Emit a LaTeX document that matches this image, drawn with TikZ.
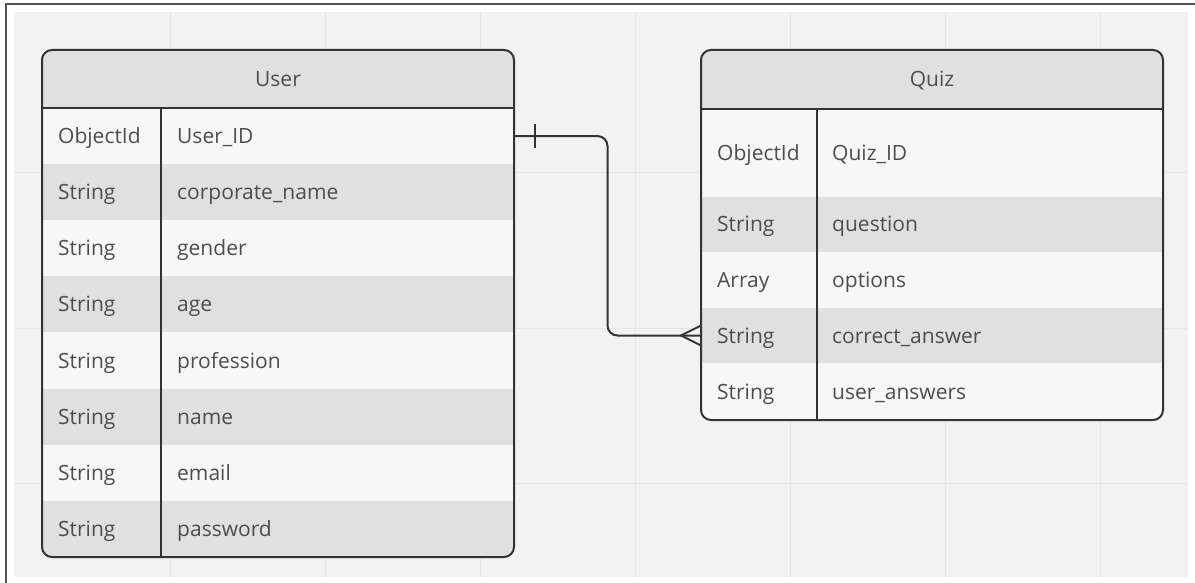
\documentclass[tikz,border=0pt]{standalone}
\usepackage{fontspec}
\setmainfont{Open Sans}
\usetikzlibrary{calc}
\definecolor{bgc}{HTML}{F2F2F2}
\definecolor{gridc}{HTML}{E6E6E6}
\definecolor{hdrc}{HTML}{E0E0E0}
\definecolor{rowl}{HTML}{F7F7F7}
\definecolor{rowd}{HTML}{E0E0E0}
\definecolor{linec}{HTML}{333333}
\definecolor{textc}{HTML}{4D4D4D}
\definecolor{framec}{HTML}{555555}
\begin{document}
\begin{tikzpicture}[x=1pt,y=-1pt,
  ln/.style={draw=linec, line width=2pt},
  rowbox/.style={draw=none, inner sep=0pt, outer sep=0pt},
  txt/.style={text=textc, inner sep=0pt, anchor=base west, font=\fontsize{21}{25}\selectfont},
  hdrtxt/.style={text=textc, inner sep=0pt, anchor=base, font=\fontsize{21}{25}\selectfont}]
\useasboundingbox (0,0) rectangle (1195,583);
\fill[white] (0,0) rectangle (1195,583);
\fill[bgc] (14,12) rectangle (1188,577);
\foreach \gx in {170,325,480,635,790,945,1100} \draw[gridc, line width=1pt] (\gx,12) -- (\gx,577);
\foreach \gy in {173,328,483} \draw[gridc, line width=1pt] (14,\gy) -- (1188,\gy);
\draw[framec, line width=1.2pt] (6,583) -- (6,4) -- (1195,4);

% ---------- User table ----------
\begin{scope}
\clip[rounded corners=10pt] (42,50) rectangle (514,557);
\node[rowbox, fill=hdrc, minimum width=472pt, minimum height=58pt] (uh) at (278,79) {};
\foreach \i/\ty/\nm/\fc [evaluate=\i as \yc using {108+56.125*(\i-0.5)+7.5}] in
  {1/ObjectId/User\_ID/rowl, 2/String/corporate\_name/rowd, 3/String/gender/rowl,
   4/String/age/rowd, 5/String/profession/rowl, 6/String/name/rowd,
   7/String/email/rowl, 8/String/password/rowd}
{
  \node[rowbox, fill=\fc, minimum width=472pt, minimum height=56.2pt] (u\i) at (278,\yc-7.5) {};
  \node[txt] (u\i t) at (58,\yc) {\ty};
  \node[txt] (u\i n) at (177,\yc) {\nm};
}
\end{scope}
\node[hdrtxt] (utitle) at ([yshift=-7.5pt]uh.center) {User};
\draw[ln, rounded corners=10pt] (42,50) rectangle (514,557);
\draw[ln] (uh.south west) -- (uh.south east);
\draw[ln] (161,108) -- (161,557);

% ---------- Quiz table ----------
\begin{scope}
\clip[rounded corners=10pt] (701,50) rectangle (1163,420);
\node[rowbox, fill=hdrc, minimum width=462pt, minimum height=59pt] (qh) at (932,79.5) {};
\foreach \i/\yc/\hh/\ty/\nm/\fc in
  {1/153/88/ObjectId/Quiz\_ID/rowl, 2/224.5/55/String/question/rowd,
   3/280/56/Array/options/rowl, 4/335.5/55/String/correct\_answer/rowd,
   5/391.5/57/String/user\_answers/rowl}
{
  \node[rowbox, fill=\fc, minimum width=462pt, minimum height=\hh pt] (q\i) at (932,\yc) {};
  \node[txt] (q\i t) at (717,\yc+7.5) {\ty};
  \node[txt] (q\i n) at (832,\yc+7.5) {\nm};
}
\end{scope}
\node[hdrtxt] (qtitle) at ([yshift=-7.5pt]qh.center) {Quiz};
\draw[ln, rounded corners=10pt] (701,50) rectangle (1163,420);
\draw[ln] (qh.south west) -- (qh.south east);
\draw[ln] (817,109) -- (817,420);

% ---------- connector ----------
\coordinate (mid) at ($(u1.east)!0.5!(q4.west)$);
\draw[ln, rounded corners=10pt] (u1.east) -| (mid) |- (q4.west);
% one marker
\draw[ln] ([xshift=21pt,yshift=12pt]u1.east) -- ([xshift=21pt,yshift=-12pt]u1.east);
% many marker (crow's foot)
\draw[ln] ([yshift=10pt]q4.west) -- ([xshift=-20pt]q4.west) -- ([yshift=-10pt]q4.west);
\end{tikzpicture}
\end{document}
